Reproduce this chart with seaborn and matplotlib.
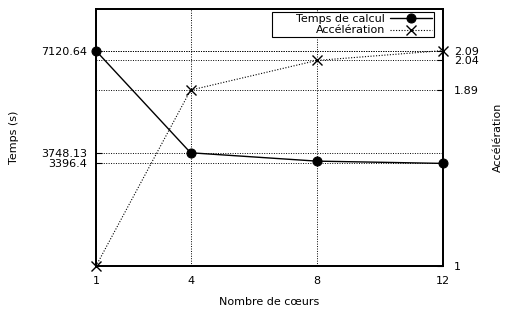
import matplotlib
matplotlib.use("Agg")
import matplotlib.pyplot as plt
import seaborn as sns
import pandas as pd

# Data
coeurs = [1, 4, 8, 12]
temps = [7120.64, 3748.13, 3472.0, 3396.4]
acceleration = [1.0, 1.89, 2.04, 2.09]
temps_ticks = [7120.64, 3748.13, 3396.4]
temps_labels = ["7120.64", "3748.13", "3396.4"]
acc_ticks = [1, 1.89, 2.04, 2.09]
acc_labels = ["1", "1.89", "2.04", "2.09"]

df = pd.DataFrame({"coeurs": coeurs, "temps": temps, "acc": acceleration})

sns.set_style("white", {"text.color": "black", "axes.labelcolor": "black",
                        "xtick.color": "black", "ytick.color": "black"})
plt.rcParams["font.family"] = ["DejaVu Sans"]
plt.rcParams["font.size"] = 8

fig = plt.figure(figsize=(5.05, 3.12), dpi=100)
ax = fig.add_axes([0.190, 0.147, 0.687, 0.824])
ax2 = ax.twinx()

sns.lineplot(data=df, x="coeurs", y="temps", ax=ax, color="black", lw=1,
             marker="o", markersize=6.5, markeredgecolor="black", label="Temps de calcul",
             legend=False, zorder=5, clip_on=False)
sns.lineplot(data=df, x="coeurs", y="acc", ax=ax2, color="black", lw=0.8,
             linestyle=(0, (1, 1.5)), marker="x", markersize=7, markeredgewidth=1,
             markeredgecolor="black", label="Accélération", legend=False, zorder=5,
             clip_on=False)

ax.set_xlim(1, 12)
ax.set_ylim(0, 8500)
ax2.set_ylim(1, 2.3)

ax.set_xticks(coeurs)
ax.set_xticklabels([str(c) for c in coeurs])
ax.set_yticks(temps_ticks)
ax.set_yticklabels(temps_labels)
ax2.set_yticks(acc_ticks)
ax2.set_yticklabels(acc_labels)

ax.tick_params(axis="x", direction="in", length=4, width=0.8, labelsize=8, pad=7,
               colors="black")
ax.tick_params(axis="y", direction="in", length=4, width=0.8, labelsize=8, pad=6.5,
               colors="black")
ax2.tick_params(axis="y", direction="in", length=4, width=0.8, labelsize=8, pad=8,
                colors="black")

# dotted grids from both axes
ax.grid(True, axis="both", color="black", linestyle=(0, (1, 1.5)), lw=0.7)
ax2.grid(True, axis="y", color="black", linestyle=(0, (1, 1.5)), lw=0.7)
ax.set_axisbelow(True)

for a in (ax, ax2):
    for s in a.spines.values():
        s.set_color("black")
        s.set_linewidth(1.3)
        s.set_visible(True)

ax.set_xlabel("Nombre de cœurs", fontsize=8, labelpad=8, color="black")
ax.set_ylabel("Temps (s)", fontsize=8, labelpad=15.5, color="black")
ax2.set_ylabel("Accélération", fontsize=8, labelpad=10, color="black")

h1, l1 = ax.get_legend_handles_labels()
h2, l2 = ax2.get_legend_handles_labels()
leg = ax2.legend(h1 + h2, l1 + l2, loc="upper right", bbox_to_anchor=(0.974, 0.988),
                 markerfirst=False, fancybox=False, framealpha=1, edgecolor="black",
                 fontsize=8, borderpad=0.15, labelspacing=0.15, handlelength=3.8,
                 handletextpad=0.45, borderaxespad=0.0, labelcolor="black")
leg.get_frame().set_linewidth(0.8)
# right-align the labels inside a wider box, like gnuplot (width in pixels)
for col in leg._legend_handle_box.get_children():
    col.align = "right"
    col.width = 159

fig.savefig("out.png", dpi=100)
